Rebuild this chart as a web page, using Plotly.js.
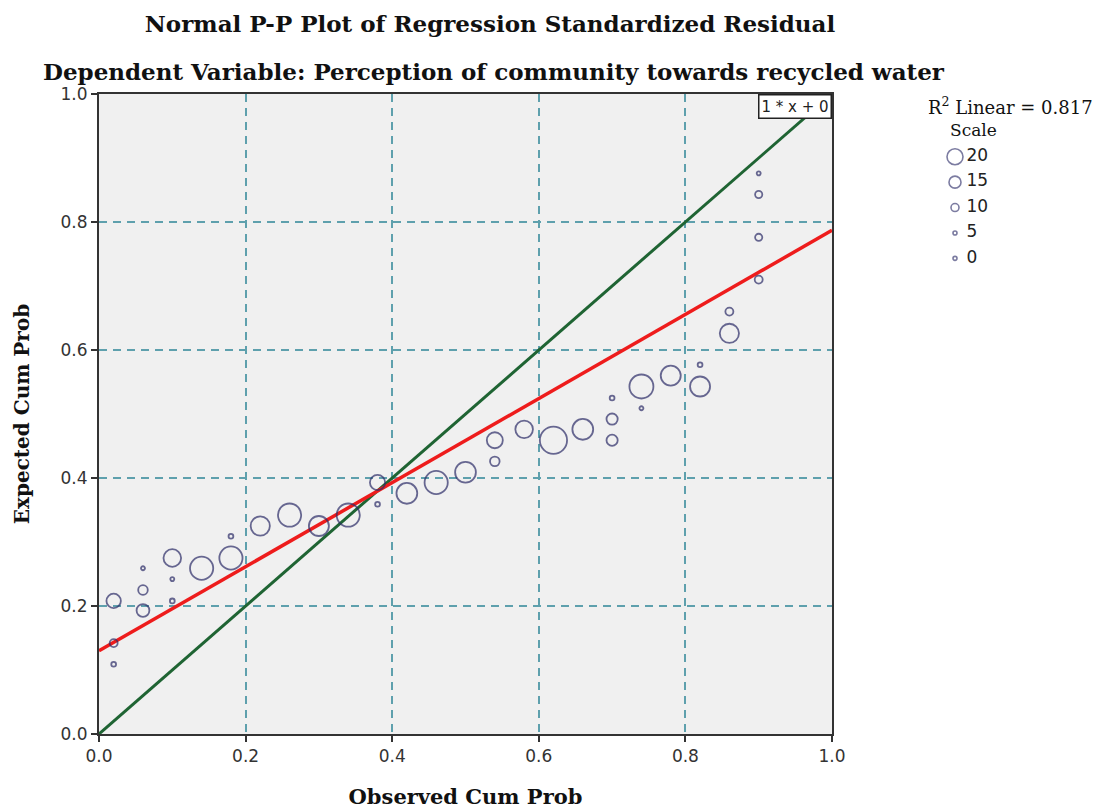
<!DOCTYPE html>
<html>
<head>
<meta charset="utf-8">
<script src="https://cdn.plot.ly/plotly-3.0.1.min.js"></script>
<style>html,body{margin:0;padding:0;background:#fff;}#chart{width:1096px;height:809px;}</style>
</head>
<body>
<div id="chart"></div>
<script>
// Observed cumulative probability (x) of each point
const obsCumProb = [
  0.02, 0.02, 0.02,
  0.06, 0.06, 0.06,
  0.10, 0.10, 0.10,
  0.14,
  0.18, 0.18,
  0.22,
  0.26,
  0.30,
  0.34,
  0.38, 0.38,
  0.42,
  0.46,
  0.50,
  0.54, 0.54,
  0.58,
  0.62,
  0.66,
  0.70, 0.70, 0.70,
  0.74, 0.74,
  0.78,
  0.82, 0.82,
  0.86, 0.86,
  0.90, 0.90, 0.90, 0.90
];
// Expected cumulative probability (y) of each point
const expCumProb = [
  0.208, 0.142, 0.109,
  0.193, 0.225, 0.259,
  0.275, 0.242, 0.208,
  0.259,
  0.275, 0.309,
  0.325,
  0.342,
  0.325,
  0.342,
  0.393, 0.359,
  0.376,
  0.393,
  0.409,
  0.459, 0.426,
  0.476,
  0.459,
  0.476,
  0.525, 0.492, 0.459,
  0.543, 0.509,
  0.560,
  0.543, 0.577,
  0.626, 0.660,
  0.710, 0.776, 0.843, 0.876
];
// Bubble scale value (frequency) of each point
const scaleValue = [
  18, 10, 6,
  16, 12, 5,
  22, 5, 6,
  29,
  29, 6,
  24,
  29,
  25,
  29,
  19, 6,
  26,
  29,
  26,
  20, 12,
  22,
  34,
  26,
  6, 14, 14,
  30, 5,
  25,
  25, 6,
  24, 10,
  10, 9, 9, 5
];
// Fit line: R2 Linear = 0.817
const fitIntercept = 0.13;
const fitSlope = 0.657;
const rSquared = "0.817";
const lineX = [0, 1];
// Reference line 1 * x + 0
const refSlope = 1, refIntercept = 0;
// Bubble legend
const legendValues = [20, 15, 10, 5, 0];
const tickVals = [0.0, 0.2, 0.4, 0.6, 0.8, 1.0];
const tickText = ["0.0", "0.2", "0.4", "0.6", "0.8", "1.0"];

const markerColor = '#2d2d68';
const sizeRef = 1.25;
const legendY = legendValues.map((v, i) => 0.902 - i * 0.0397);

const traces = [
  {
    x: lineX, y: lineX.map(v => refIntercept + refSlope * v),
    mode: 'lines', type: 'scatter',
    line: {color: '#1f6433', width: 3},
    hoverinfo: 'skip', showlegend: false
  },
  {
    x: lineX, y: lineX.map(v => fitIntercept + fitSlope * v),
    mode: 'lines', type: 'scatter',
    line: {color: '#ee1c1c', width: 3.5},
    hoverinfo: 'skip', showlegend: false
  },
  {
    x: obsCumProb, y: expCumProb,
    mode: 'markers', type: 'scatter',
    marker: {
      size: scaleValue, sizemode: 'diameter', sizeref: sizeRef, sizemin: 2,
      color: 'rgba(0,0,0,0)',
      line: {color: markerColor, width: 1.8}
    },
    showlegend: false
  },
  {
    x: legendValues.map(() => 0.5),
    y: legendY,
    xaxis: 'x2', yaxis: 'y2',
    mode: 'markers', type: 'scatter',
    marker: {
      size: legendValues.map(v => v || 0.01), sizemode: 'diameter', sizeref: sizeRef, sizemin: 2,
      color: 'rgba(0,0,0,0)',
      line: {color: '#45457a', width: 1.6}
    },
    cliponaxis: false,
    hoverinfo: 'skip', showlegend: false
  },
  {
    x: legendValues.map(() => 0.88),
    y: legendY,
    xaxis: 'x2', yaxis: 'y2',
    mode: 'text', type: 'scatter',
    text: legendValues.map(String),
    textposition: 'middle right',
    textfont: {family: 'DejaVu Sans, Arial, sans-serif', size: 17, color: '#222'},
    cliponaxis: false,
    hoverinfo: 'skip', showlegend: false
  }
];

const W = 1096, H = 809;
const mL = 99, mR = 6, mT = 94, mB = 75;
const paperW = W - mL - mR, paperH = H - mT - mB;
const px = x => (x - mL) / paperW;
const py = y => (H - mB - y) / paperH;

const serifFont = 'DejaVu Serif, Liberation Serif, serif';
const layout = {
  width: W, height: H,
  margin: {l: mL, r: mR, t: mT, b: mB},
  paper_bgcolor: '#ffffff',
  plot_bgcolor: '#ffffff',
  showlegend: false,
  hovermode: false,
  title: {
    text: '<b>Normal P-P Plot of Regression Standardized Residual</b>',
    font: {family: serifFont, size: 23, color: '#111'},
    xref: 'container', yref: 'container',
    x: 490 / W, xanchor: 'center',
    y: 1 - 24 / H, yanchor: 'middle'
  },
  xaxis: {
    domain: [0, 733 / paperW],
    range: [0, 1],
    tickvals: tickVals, ticktext: tickText,
    ticks: 'outside', ticklen: 6, tickwidth: 2, tickcolor: '#333',
    tickfont: {family: 'DejaVu Sans, Arial, sans-serif', size: 17, color: '#333'},
    showline: true, linecolor: '#333', linewidth: 2, mirror: true,
    showgrid: true, gridcolor: '#5ea0ad', gridwidth: 2, griddash: '8px,6px',
    zeroline: false,
    title: {text: '<b>Observed Cum Prob</b>', font: {family: serifFont, size: 21, color: '#111'}, standoff: 24}
  },
  yaxis: {
    domain: [0, 1],
    range: [0, 1],
    tickvals: tickVals, ticktext: tickText,
    ticks: 'outside', ticklen: 6, tickwidth: 2, tickcolor: '#333',
    tickfont: {family: 'DejaVu Sans, Arial, sans-serif', size: 17, color: '#333'},
    showline: true, linecolor: '#333', linewidth: 2, mirror: true,
    showgrid: true, gridcolor: '#5ea0ad', gridwidth: 2, griddash: '8px,6px',
    zeroline: false,
    title: {text: '<b>Expected Cum Prob</b>', font: {family: serifFont, size: 20, color: '#111'}, standoff: 26}
  },
  xaxis2: {
    domain: [px(940), px(970)], range: [0, 1], anchor: 'y2',
    visible: false, fixedrange: true
  },
  yaxis2: {
    domain: [0, 1], range: [0, 1], anchor: 'x2',
    visible: false, fixedrange: true
  },
  shapes: [
    {
      type: 'rect', xref: 'x domain', yref: 'y domain',
      x0: 0, x1: 1, y0: 0, y1: 1,
      fillcolor: '#f0f0f0', line: {width: 0}, layer: 'below'
    }
  ],
  annotations: [
    {
      text: '<b>Dependent Variable: Perception of community towards recycled water</b>',
      xref: 'paper', yref: 'paper', x: px(494), y: py(72),
      xanchor: 'center', yanchor: 'middle', showarrow: false,
      font: {family: serifFont, size: 23, color: '#111'}
    },
    {
      text: '1 * x + 0',
      xref: 'paper', yref: 'paper', x: px(832), y: py(94),
      xanchor: 'right', yanchor: 'top', showarrow: false,
      font: {family: 'DejaVu Sans, Arial, sans-serif', size: 15, color: '#222'},
      bgcolor: '#ffffff', bordercolor: '#222', borderwidth: 1.5, borderpad: 2
    },
    {
      text: 'R<sup>2</sup> Linear = ' + rSquared,
      xref: 'paper', yref: 'paper', x: px(926), y: py(106),
      xanchor: 'left', yanchor: 'middle', showarrow: false,
      font: {family: serifFont, size: 18, color: '#111'}
    },
    {
      text: 'Scale',
      xref: 'paper', yref: 'paper', x: px(948), y: py(130),
      xanchor: 'left', yanchor: 'middle', showarrow: false,
      font: {family: serifFont, size: 17, color: '#111'}
    }
  ]
};

Plotly.newPlot('chart', traces, layout, {displayModeBar: false, staticPlot: true});
</script>
</body>
</html>
